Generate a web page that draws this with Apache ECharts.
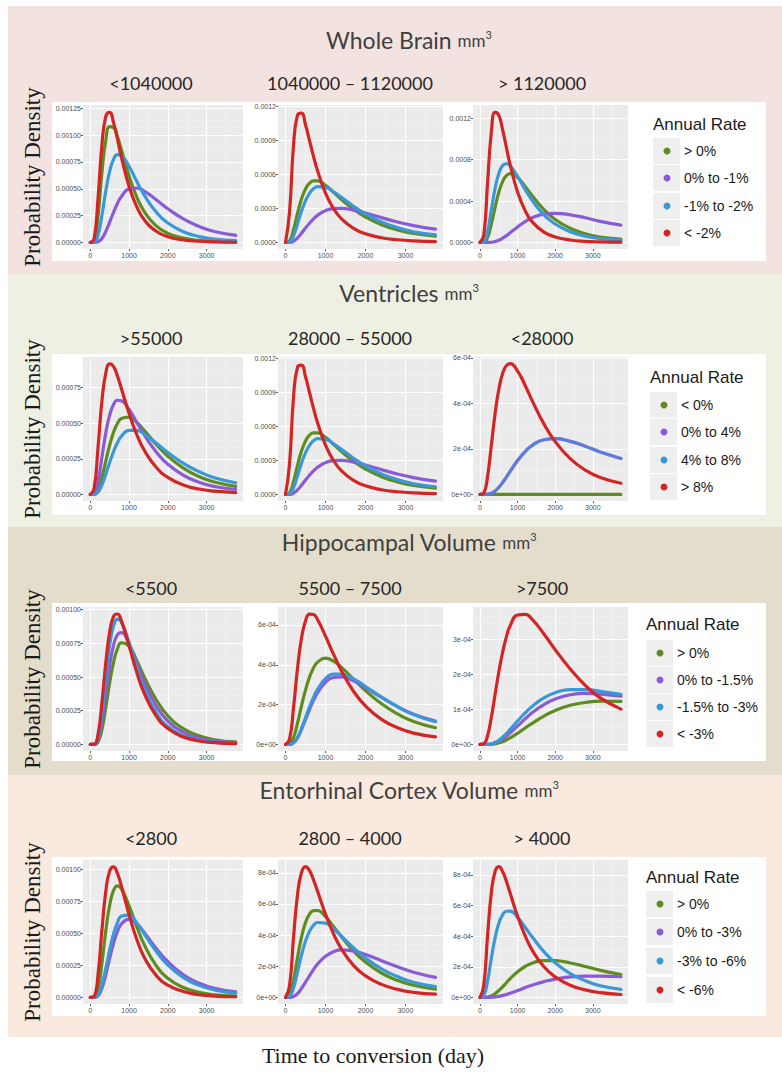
<!DOCTYPE html>
<html><head><meta charset="utf-8">
<script src="https://cdn.jsdelivr.net/npm/echarts@6/dist/echarts.min.js"></script>
<style>html,body{margin:0;padding:0;background:#fff;}#c{width:782px;height:1072px;}</style>
</head><body><div id="c"></div>
<script>
// Time to conversion (days) at which the densities are read
const X = [0,100,200,300,400,500,600,700,800,1000,1200,1400,1700,2000,2400,2800,3200,3750];
// Probability density values in units of 1e-5

// Whole Brain
const WB1_GREEN  = [0,1.6,25.1,65.2,95.3,108.0,107.2,98.6,86.6,62.0,42.2,28.3,15.4,8.5,4.0,1.9,1.0,0.5];
const WB1_PURPLE = [0,0.0,0.6,3.7,10.3,19.0,28.1,36.3,42.7,49.9,50.7,47.6,39.8,31.4,21.9,15.0,10.2,6.6];
const WB1_BLUE   = [0,0.2,6.8,25.3,47.9,66.3,77.4,81.8,81.0,70.8,56.8,43.7,28.3,18.1,10.0,5.6,3.2,1.7];
const WB1_RED    = [0,3.5,41.2,90.4,117.4,121.3,111.7,96.4,80.1,52.3,33.1,20.8,10.5,5.4,2.3,1.1,0.5,0.2];

const WB2_GREEN  = [0,1.4,11.2,25.6,38.3,47.2,52.3,54.4,54.4,50.5,44.4,38.0,29.4,22.5,15.7,11.1,7.9,5.5];
const WB2_PURPLE = [0,0.1,1.2,4.0,8.1,12.7,17.0,20.8,23.9,28.1,29.9,30.1,28.5,25.9,21.9,18.1,14.9,11.8];
const WB2_BLUE   = [0,0.5,6.0,16.4,27.5,36.8,43.4,47.4,49.3,48.7,44.8,39.8,32.0,25.2,18.2,13.1,9.5,6.7];
const WB2_RED    = [0,26.5,85.3,112.5,114.2,104.0,90.1,76.1,63.5,43.6,30.0,20.9,12.4,7.6,4.2,2.4,1.4,0.8];

const WB3_GREEN  = [0,0.2,4.8,17.6,33.9,48.5,58.8,64.5,66.4,62.6,54.0,44.5,31.8,22.2,13.7,8.4,5.3,3.2];
const WB3_PURPLE = [0,0,0,0.2,0.9,2.2,4.1,6.5,9.3,15.0,20.1,24.0,27.3,28.1,26.7,23.8,20.4,16.8];
const WB3_BLUE   = [0,0.6,10.7,31.4,52.1,66.6,74.2,76.0,73.9,63.6,51.2,39.9,26.8,17.8,10.4,6.1,3.7,2.2];
const WB3_RED    = [0,7.2,57.5,106.2,125.5,122.6,108.9,91.9,75.3,48.5,30.7,19.4,10.0,5.3,2.4,1.1,0.6,0.3];

// Ventricles
const VE1_GREEN  = [0,0.1,3.2,11.9,23.4,34.7,43.6,49.8,53.4,54.4,50.6,44.7,35.2,26.9,18.5,12.6,8.7,5.7];
const VE1_PURPLE = [0,0.7,9.4,26.2,43.2,55.8,63.2,66.2,65.9,59.7,50.6,41.5,29.9,21.2,13.5,8.6,5.6,3.5];
const VE1_BLUE   = [0,0.1,1.6,6.6,14.2,22.5,30.1,36.3,40.8,45.1,45.0,42.3,36.1,29.5,21.9,16.1,11.7,8.2];
const VE1_RED    = [0,4.4,33.1,65.6,85.2,91.8,89.9,83.3,74.7,57.0,42.0,30.7,19.1,12.0,6.7,3.8,2.3,1.3];

const VE2_GREEN  = [0,1.4,11.2,25.6,38.3,47.2,52.3,54.4,54.4,50.5,44.4,38.0,29.4,22.5,15.7,11.1,7.9,5.5];
const VE2_PURPLE = [0,0.1,1.2,4.0,8.1,12.7,17.0,20.8,23.9,28.1,29.9,30.1,28.5,25.9,21.9,18.1,14.9,11.8];
const VE2_BLUE   = [0,0.5,6.0,16.4,27.5,36.8,43.4,47.4,49.3,48.7,44.8,39.8,32.0,25.2,18.2,13.1,9.5,6.7];
const VE2_RED    = [0,26.5,85.3,112.5,114.2,104.0,90.1,76.1,63.5,43.6,30.0,20.9,12.4,7.6,4.2,2.4,1.4,0.8];

const VE3_GREEN  = [0,0,0,0,0,0,0,0,0,0,0,0,0,0,0,0,0,0];
const VE3_PURPLE = [0,0,0.1,0.5,1.5,3.1,5.2,7.6,10.1,14.9,18.8,21.7,24.0,24.5,23.3,21.2,18.6,15.8];
const VE3_BLUE   = [0,0,0.1,0.5,1.5,3.1,5.2,7.6,10.1,14.9,18.8,21.7,24.0,24.5,23.3,21.2,18.6,15.8];
const VE3_RED    = [0,0.6,7.9,21.5,35.4,46.2,53.1,56.6,57.5,54.2,47.9,40.8,31.0,23.2,15.7,10.7,7.4,4.9];

// Hippocampal Volume
const HV1_GREEN  = [0,0,1.9,11.0,27.5,45.8,60.9,70.8,75.4,72.8,62.1,49.5,33.1,21.3,11.7,6.4,3.5,1.9];
const HV1_PURPLE = [0,0,3.2,16.6,37.9,58.6,73.5,81.3,82.9,74.5,59.9,45.5,28.5,17.4,9.0,4.7,2.5,1.3];
const HV1_BLUE   = [0,0.1,4.8,23.4,50.2,73.6,87.9,92.9,90.9,75.7,57.0,40.7,23.6,13.4,6.4,3.1,1.5,0.7];
const HV1_RED    = [0,0.2,7.4,31.1,60.7,83.4,94.9,96.7,91.8,73.1,53.4,37.3,21.1,11.8,5.5,2.6,1.3,0.6];

const HV2_GREEN  = [0,0.3,3.5,10.7,19.3,27.3,33.8,38.4,41.3,43.3,41.8,38.7,32.8,27.0,20.4,15.3,11.5,8.4];
const HV2_PURPLE = [0,0,0.8,3.3,7.5,12.4,17.5,22.1,25.9,31.2,33.6,33.9,31.9,28.5,23.6,19.0,15.1,11.7];
const HV2_BLUE   = [0,0,0.8,3.6,8.1,13.4,18.8,23.6,27.6,33.0,35.3,35.3,32.9,29.1,23.8,19.0,15.0,11.4];
const HV2_RED    = [0,2.5,18.3,38.2,53.3,62.0,65.4,65.2,62.7,54.4,45.3,36.9,26.7,19.3,12.6,8.4,5.7,3.8];

const HV3_GREEN  = [0,0,0,0.1,0.2,0.4,0.8,1.3,1.9,3.2,4.7,6.1,8.1,9.7,11.2,12.0,12.4,12.3];
const HV3_PURPLE = [0,0,0,0.1,0.4,0.9,1.6,2.4,3.3,5.3,7.3,9.2,11.4,13.0,14.2,14.6,14.4,13.8];
const HV3_BLUE   = [0,0,0,0.2,0.6,1.2,2.1,3.1,4.3,6.7,9.0,11.0,13.3,14.8,15.7,15.7,15.2,14.3];
const HV3_RED    = [0,0.2,2.5,7.7,14.3,20.8,26.3,30.7,33.9,37.0,37.2,35.6,31.6,27.1,21.6,16.9,13.3,10.1];

// Entorhinal Cortex Volume
const EC1_GREEN  = [0,0.2,6.7,26.7,51.8,71.9,83.4,87.0,84.8,71.4,55.1,40.6,24.8,15.0,7.7,4.0,2.1,1.1];
const EC1_PURPLE = [0,0,1.2,7.1,17.7,30.4,42.1,51.2,57.2,61.0,57.3,50.2,38.2,27.9,17.7,11.2,7.1,4.3];
const EC1_BLUE   = [0,0,1.8,9.6,22.6,37.0,49.4,58.2,63.2,64.2,58.0,49.2,36.0,25.3,15.5,9.5,5.8,3.4];
const EC1_RED    = [0,0.9,17.8,52.2,82.5,98.6,101.8,96.6,87.0,64.6,45.2,30.8,17.2,9.6,4.6,2.2,1.1,0.6];

const EC2_GREEN  = [0,1.2,10.9,25.5,38.7,48.0,53.4,55.7,55.8,51.8,45.5,38.9,29.9,22.7,15.7,11.0,7.8,5.3];
const EC2_PURPLE = [0,0,0.6,2.5,5.8,9.8,13.9,17.9,21.4,26.5,29.4,30.5,29.7,27.5,23.6,19.7,16.2,12.9];
const EC2_BLUE   = [0,0.6,6.1,16.3,27.1,36.0,42.4,46.3,48.1,47.7,44.1,39.3,31.9,25.3,18.4,13.4,9.8,7.0];
const EC2_RED    = [0,7.4,38.2,65.8,80.2,84.0,81.4,75.5,68.3,53.5,40.9,31.1,20.6,13.8,8.4,5.2,3.3,2.1];

const EC3_GREEN  = [0,0,0.2,0.9,2.4,4.5,6.9,9.6,12.2,16.8,20.2,22.5,24.1,24.0,22.5,20.2,17.7,15.0];
const EC3_PURPLE = [0,0,0,0.1,0.3,0.7,1.2,1.9,2.7,4.5,6.4,8.1,10.3,12.0,13.4,13.9,13.9,13.5];
const EC3_BLUE   = [0,1.2,10.7,25.5,38.9,48.4,54.0,56.3,56.4,52.3,45.9,39.1,29.9,22.7,15.6,10.9,7.6,5.2];
const EC3_RED    = [0,8.0,40.2,68.2,82.3,85.5,82.3,75.9,68.2,53.0,40.3,30.4,20.0,13.4,8.0,4.9,3.1,1.9];

// Tick values (units of 1e-5) and labels
const X_TICKS = [0,1000,2000,3000];
const X_MINOR = [500,1500,2500,3500];
const T_25_125 = [0,25,50,75,100,125];
const L_25_125 = ['0.00000','0.00025','0.00050','0.00075','0.00100','0.00125'];
const T_25_100 = [0,25,50,75,100];
const L_25_100 = ['0.00000','0.00025','0.00050','0.00075','0.00100'];
const T_25_75 = [0,25,50,75];
const L_25_75 = ['0.00000','0.00025','0.00050','0.00075'];
const T_30_120 = [0,30,60,90,120];
const L_30_120 = ['0.0000','0.0003','0.0006','0.0009','0.0012'];
const T_40_120 = [0,40,80,120];
const L_40_120 = ['0.0000','0.0004','0.0008','0.0012'];
const T_20_60 = [0,20,40,60];
const L_20_60 = ['0e+00','2e-04','4e-04','6e-04'];
const T_20_80 = [0,20,40,60,80];
const L_20_80 = ['0e+00','2e-04','4e-04','6e-04','8e-04'];
const T_10_30 = [0,10,20,30];
const L_10_30 = ['0e+00','1e-04','2e-04','3e-04'];

// Texts
const TITLES = ['Whole Brain','Ventricles','Hippocampal Volume','Entorhinal Cortex Volume'];
const SUB_WB = ['<1040000','1040000 \u2013 1120000','> 1120000'];
const SUB_VE = ['>55000','28000 \u2013 55000','<28000'];
const SUB_HV = ['<5500','5500 \u2013 7500','>7500'];
const SUB_EC = ['<2800','2800 \u2013 4000','> 4000'];
const RATES_WB = ['> 0%','0% to -1%','-1% to -2%','< -2%'];
const RATES_VE = ['< 0%','0% to 4%','4% to 8%','> 8%'];
const RATES_HV = ['> 0%','0% to -1.5%','-1.5% to -3%','< -3%'];
const RATES_EC = ['> 0%','0% to -3%','-3% to -6%','< -6%'];
const LEGEND_TITLE = 'Annual Rate';
const Y_TITLE = 'Probability Density';
const X_TITLE = 'Time to conversion (day)';

const GROUPS = ['green','purple','blue','red'];
const COLORS = {green:'#5e8c1e', purple:'#8a5bd6', blue:'#3a98d8', red:'#d42525'};

const rows = [
  {title:TITLES[0], titleY:40, subY:83, band:[6,274], bandColor:'#f3e3e0', white:[102,261], plotTop:105,
   subs:SUB_WB, rates:RATES_WB, lg:{x:653, ty:124, items:[151,178,206,233]},
   panels:[
     {d:{green:WB1_GREEN,purple:WB1_PURPLE,blue:WB1_BLUE,red:WB1_RED}, t:T_25_125, l:L_25_125, yr:[-6.1,128.1]},
     {d:{green:WB2_GREEN,purple:WB2_PURPLE,blue:WB2_BLUE,red:WB2_RED}, t:T_30_120, l:L_30_120, yr:[-5.78,121.4]},
     {d:{green:WB3_GREEN,purple:WB3_PURPLE,blue:WB3_BLUE,red:WB3_RED}, t:T_40_120, l:L_40_120, yr:[-6.32,132.7]}]},
  {title:TITLES[1], titleY:293, subY:338, band:[274,527], bandColor:'#eff0e4', white:[354,515], plotTop:357,
   subs:SUB_VE, rates:RATES_VE, lg:{x:650, ty:377, items:[405,432,460,487]},
   panels:[
     {d:{green:VE1_GREEN,purple:VE1_PURPLE,blue:VE1_BLUE,red:VE1_RED}, t:T_25_75, l:L_25_75, yr:[-4.6,96.6]},
     {d:{green:VE2_GREEN,purple:VE2_PURPLE,blue:VE2_BLUE,red:VE2_RED}, t:T_30_120, l:L_30_120, yr:[-5.78,121.4]},
     {d:{green:VE3_GREEN,purple:VE3_PURPLE,blue:VE3_BLUE,red:VE3_RED}, t:T_20_60, l:L_20_60, yr:[-2.9,60.4], blueOpacity:0.55}]},
  {title:TITLES[2], titleY:542, subY:588, band:[527,775], bandColor:'#e4ddcc', white:[603,761], plotTop:607,
   subs:SUB_HV, rates:RATES_HV, lg:{x:646, ty:624, items:[653,680,707,734]},
   panels:[
     {d:{green:HV1_GREEN,purple:HV1_PURPLE,blue:HV1_BLUE,red:HV1_RED}, t:T_25_100, l:L_25_100, yr:[-4.85,101.9]},
     {d:{green:HV2_GREEN,purple:HV2_PURPLE,blue:HV2_BLUE,red:HV2_RED}, t:T_20_60, l:L_20_60, yr:[-3.3,69.0]},
     {d:{green:HV3_GREEN,purple:HV3_PURPLE,blue:HV3_BLUE,red:HV3_RED}, t:T_10_30, l:L_10_30, yr:[-1.87,39.3]}]},
  {title:TITLES[3], titleY:790, subY:838, band:[775,1037], bandColor:'#fae9de', white:[857,1016], plotTop:860,
   subs:SUB_EC, rates:RATES_EC, lg:{x:646, ty:877, items:[904,932,961,990]},
   panels:[
     {d:{green:EC1_GREEN,purple:EC1_PURPLE,blue:EC1_BLUE,red:EC1_RED}, t:T_25_100, l:L_25_100, yr:[-5.1,107.1]},
     {d:{green:EC2_GREEN,purple:EC2_PURPLE,blue:EC2_BLUE,red:EC2_RED}, t:T_20_80, l:L_20_80, yr:[-4.2,88.2]},
     {d:{green:EC3_GREEN,purple:EC3_PURPLE,blue:EC3_BLUE,red:EC3_RED}, t:T_20_80, l:L_20_80, yr:[-4.3,89.8]}]}
];

const PANEL_X = [[83,160],[278,165],[473,155]];
const SUB_X = [151,350,542];
const PLOT_H = 144;
const X_RANGE = [-187.5, 3937.5];

const grid = [], xAxis = [], yAxis = [], series = [], graphic = [];
const tickFont = {fontSize:7, color:'#4d4d4d', fontFamily:'Liberation Sans'};

rows.forEach((row, r) => {
  graphic.push({type:'rect', z:-10, silent:true, shape:{x:8, y:row.band[0], width:774, height:row.band[1]-row.band[0]}, style:{fill:row.bandColor}});
  graphic.push({type:'rect', z:-9, silent:true, shape:{x:52, y:row.white[0], width:714, height:row.white[1]-row.white[0]}, style:{fill:'#ffffff'}});
  graphic.push({type:'text', z:10, x:409, y:row.titleY, style:{
    text:'{a|'+row.title+'} {b|mm}{c|3}', align:'center', verticalAlign:'middle',
    fontFamily:'Lato', fontSize:23, fill:'#404040',
    rich:{a:{fontFamily:'Lato', fontSize:23, fill:'#404040'},
          b:{fontFamily:'Lato', fontSize:17, fill:'#404040'},
          c:{fontFamily:'Lato', fontSize:11, fill:'#404040', verticalAlign:'top'}}}});
  row.subs.forEach((s, p) => {
    graphic.push({type:'text', z:10, x:SUB_X[p], y:row.subY, style:{text:s, align:'center', verticalAlign:'middle', fontFamily:'Lato', fontSize:18, fill:'#262626'}});
  });
  graphic.push({type:'text', z:10, x:32, y:row.plotTop + PLOT_H/2, rotation:Math.PI/2, style:{text:Y_TITLE, align:'center', verticalAlign:'middle', fontFamily:'Liberation Serif', fontSize:23, fill:'#1a1a1a'}});
  // legend
  graphic.push({type:'text', z:10, x:row.lg.x, y:row.lg.ty, style:{text:LEGEND_TITLE, align:'left', verticalAlign:'middle', fontFamily:'Liberation Sans', fontSize:17, fill:'#1a1a1a'}});
  row.lg.items.forEach((cy, i) => {
    graphic.push({type:'rect', z:5, silent:true, shape:{x:row.lg.x, y:cy-13, width:27, height:26}, style:{fill:'#efefef'}});
    graphic.push({type:'circle', z:6, silent:true, shape:{cx:row.lg.x+14, cy:cy, r:3.5}, style:{fill:COLORS[GROUPS[i]]}});
    graphic.push({type:'text', z:10, x:row.lg.x+31, y:cy, style:{text:row.rates[i], align:'left', verticalAlign:'middle', fontFamily:'Liberation Sans', fontSize:14, fill:'#1a1a1a'}});
  });

  row.panels.forEach((pn, p) => {
    const g = grid.length;
    grid.push({left:PANEL_X[p][0], top:row.plotTop, width:PANEL_X[p][1], height:PLOT_H, show:true, backgroundColor:'#ebebeb', borderWidth:0, containLabel:false});
    xAxis.push({type:'value', gridIndex:g, min:X_RANGE[0], max:X_RANGE[1], position:'bottom',
      axisLine:{show:false, onZero:false},
      axisTick:{show:true, length:2, lineStyle:{color:'#333', width:0.8}, customValues:X_TICKS},
      axisLabel:{show:true, customValues:X_TICKS, margin:2.5, formatter:v=>String(v), ...tickFont},
      splitLine:{show:true, lineStyle:{color:'#ffffff', width:1.1}}});
    xAxis.push({type:'value', gridIndex:g, min:X_RANGE[0], max:X_RANGE[1], position:'top',
      axisLine:{show:false, onZero:false}, axisTick:{show:false, customValues:X_MINOR},
      axisLabel:{show:false, customValues:X_MINOR},
      splitLine:{show:true, lineStyle:{color:'#f6f6f6', width:0.5}}});
    const ticks = pn.t, labels = pn.l;
    const step = ticks[1]-ticks[0];
    const minor = ticks.map(t => t + step/2).filter(v => v < pn.yr[1]);
    yAxis.push({type:'value', gridIndex:g, min:pn.yr[0], max:pn.yr[1], position:'left',
      axisLine:{show:false, onZero:false},
      axisTick:{show:true, length:2, lineStyle:{color:'#333', width:0.8}, customValues:ticks},
      axisLabel:{show:true, customValues:ticks, margin:2, ...tickFont,
        formatter:v => { const i = ticks.findIndex(t => Math.abs(t - v) < 1e-6); return i >= 0 ? labels[i] : ''; }},
      splitLine:{show:true, lineStyle:{color:'#ffffff', width:1.1}}});
    yAxis.push({type:'value', gridIndex:g, min:pn.yr[0], max:pn.yr[1], position:'right',
      axisLine:{show:false, onZero:false}, axisTick:{show:false, customValues:minor},
      axisLabel:{show:false, customValues:minor},
      splitLine:{show:true, lineStyle:{color:'#f6f6f6', width:0.5}}});
    GROUPS.forEach(k => {
      const arr = pn.d[k];
      series.push({type:'line', name:row.rates[GROUPS.indexOf(k)], xAxisIndex:2*g, yAxisIndex:2*g,
        data:X.map((x, i) => [x, arr[i]]), showSymbol:false, symbol:'none',
        smooth:0.5, silent:true,
        lineStyle:{color:COLORS[k], width:3.2, opacity:(k==='blue' && pn.blueOpacity) ? pn.blueOpacity : 1, join:'round', cap:'round'},
        z:2});
    });
  });
});

graphic.push({type:'text', z:10, x:373, y:1055, style:{text:X_TITLE, align:'center', verticalAlign:'middle', fontFamily:'Liberation Serif', fontSize:22, fill:'#1a1a1a'}});

const chart = echarts.init(document.getElementById('c'), null, {renderer:'svg', width:782, height:1072});
chart.setOption({animation:false, backgroundColor:'#ffffff', grid, xAxis, yAxis, series, graphic});
</script></body></html>
